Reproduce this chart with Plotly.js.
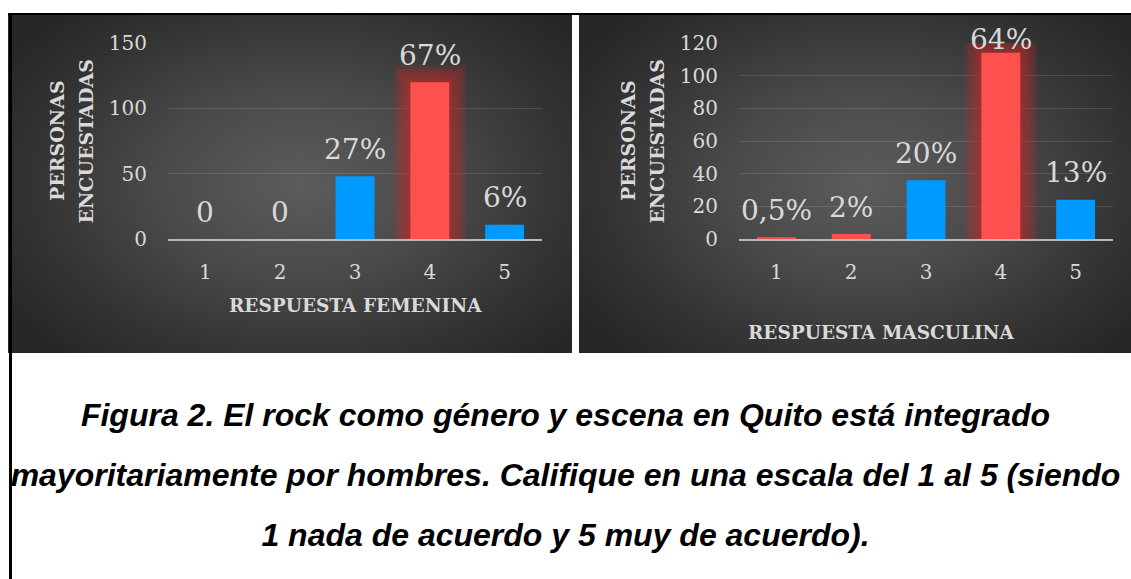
<!DOCTYPE html>
<html>
<head>
<meta charset="utf-8">
<script src="https://cdn.plot.ly/plotly-3.0.1.min.js"></script>
<style>
  html, body { margin:0; padding:0; background:#ffffff; width:1131px; height:579px; overflow:hidden; }
  .panel { position:absolute; top:15px; height:338px;
           background: radial-gradient(ellipse 62% 68% at 52% 50%, #5c5c5c 0%, #4a4a4a 40%, #343434 75%, #272727 100%); }
  #fem { left:8px; width:564px; }
  #masc { left:579px; width:552px; }
  #topline { position:absolute; left:8px; top:13px; width:1123px; height:2px; background:#000; z-index:5; }
  #leftline { position:absolute; left:9px; top:13px; width:3px; height:566px; background:#000; z-index:5; }
  #caption { position:absolute; left:0; top:385px; width:1131px; text-align:center;
             font-family:"Liberation Sans", Arial, sans-serif; font-weight:bold; font-style:italic;
             font-size:32px; line-height:60px; color:#000; white-space:nowrap; }
</style>
</head>
<body>
<div id="fem" class="panel"></div>
<div id="masc" class="panel"></div>
<div id="topline"></div>
<div id="leftline"></div>
<div id="caption">Figura 2. El rock como género y escena en Quito está integrado<br>mayoritariamente por hombres. Califique en una escala del 1 al 5 (siendo<br>1 nada de acuerdo y 5 muy de acuerdo).</div>
<script>
// ---- data ----
const categories = ['1', '2', '3', '4', '5'];
const femValues = [0, 0, 48, 120, 11];
const femLabels = ['0', '0', '27%', '67%', '6%'];
const mascValues = [1, 3, 36, 114, 24];
const mascLabels = ['0,5%', '2%', '20%', '64%', '13%'];
const femTicks = [0, 50, 100, 150];
const mascTicks = [0, 20, 40, 60, 80, 100, 120];
const yTitleLines = ['PERSONAS', 'ENCUESTADAS'];
const femXTitle = 'RESPUESTA FEMENINA';
const mascXTitle = 'RESPUESTA MASCULINA';

// ---- styles ----
const BLUE = '#0099ff', RED = '#ff5050';
const femColors = [BLUE, BLUE, BLUE, RED, BLUE];
const mascColors = [RED, RED, BLUE, RED, BLUE];
const femGlow = [0, 0, 0, 1, 0];
const mascGlow = [0, 0, 0, 1, 0];
const TXT = '#d9d9d9';
const SERIF = 'DejaVu Serif, Liberation Serif, serif';

function drawChart(divId, width, values, labels, colors, glow, yMax, yTicks, xTitle, xTitleX, xTitleShift) {
  const H = 338, L = 160, T = 28, B = 114, PW = 374;
  const PH = H - T - B;
  const ppu = PH / yMax;
  const traces = [];
  // glow layers behind the highlighted bars
  [34, 27, 20, 13, 6].forEach(function (lw) {
    traces.push({
      type: 'bar', x: categories, y: values, width: 0.52,
      marker: { color: 'rgba(0,0,0,0)',
                line: { width: glow.map(function (g) { return g ? lw : 0; }),
                        color: 'rgba(200,40,40,0.17)' } },
      hoverinfo: 'skip'
    });
  });
  traces.push({
    type: 'bar', x: categories, y: values, width: 0.52,
    marker: { color: colors, line: { width: 0 } },
    hoverinfo: 'skip'
  });
  const ann = [];
  values.forEach(function (v, i) {
    const above = Math.min(v * ppu + 28, PH + 4);
    ann.push({ x: i, y: v, xref: 'x', yref: 'y', text: labels[i], showarrow: false,
               xanchor: 'center', yanchor: 'middle', yshift: above - v * ppu - 1,
               font: { family: SERIF, size: 28, color: TXT } });
  });
  ann.push({ xref: 'paper', yref: 'paper', x: 0, y: 0.5, xshift: -111, text: yTitleLines[0],
             textangle: -90, showarrow: false, xanchor: 'center', yanchor: 'middle',
             font: { family: SERIF, size: 19, color: TXT, weight: 'bold' } });
  ann.push({ xref: 'paper', yref: 'paper', x: 0, y: 0.5, xshift: -82.5, text: yTitleLines[1],
             textangle: -90, showarrow: false, xanchor: 'center', yanchor: 'middle',
             font: { family: SERIF, size: 19, color: TXT, weight: 'bold' } });
  ann.push({ xref: 'paper', yref: 'paper', x: xTitleX, y: 0, yshift: xTitleShift, text: xTitle,
             showarrow: false, xanchor: 'center', yanchor: 'middle',
             font: { family: SERIF, size: 18.5, color: TXT, weight: 'bold' } });
  const layout = {
    width: width, height: H,
    margin: { l: L, r: width - L - PW, t: T, b: B, pad: 0 },
    paper_bgcolor: 'rgba(0,0,0,0)', plot_bgcolor: 'rgba(0,0,0,0)',
    barmode: 'overlay', bargap: 0.48, showlegend: false,
    xaxis: { type: 'category', categoryarray: categories, categoryorder: 'array',
             range: [-0.5, categories.length - 0.5], autorange: false,
             showgrid: false, showline: true, linecolor: '#b8b8b8', linewidth: 2,
             ticks: '', ticklabelstandoff: 14, tickfont: { family: SERIF, size: 20, color: TXT },
             zeroline: false, fixedrange: true },
    yaxis: { range: [0, yMax], autorange: false, tickvals: yTicks, showgrid: true, gridcolor: 'rgba(255,255,255,0.12)',
             gridwidth: 1, zeroline: false, showline: false, ticks: '', ticklabelstandoff: 20,
             tickfont: { family: SERIF, size: 20, color: TXT }, fixedrange: true },
    annotations: ann
  };
  Plotly.newPlot(divId, traces, layout, { staticPlot: true, displayModeBar: false });
}

drawChart('fem', 564, femValues, femLabels, femColors, femGlow, 150, femTicks, femXTitle, 0.5, -66);
drawChart('masc', 552, mascValues, mascLabels, mascColors, mascGlow, 120, mascTicks, mascXTitle, 0.382, -93);
</script>
</body>
</html>
